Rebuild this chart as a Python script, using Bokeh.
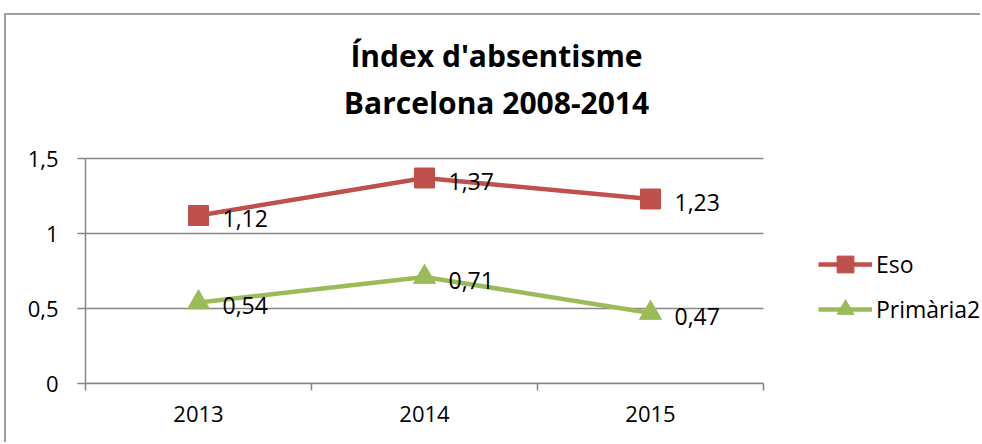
from bokeh.plotting import figure
from bokeh.models import FixedTicker, Label, Legend, LegendItem, ColumnDataSource, Range1d
from bokeh.core.properties import value
from bokeh.embed import file_html
from bokeh.resources import INLINE

years = [2013, 2014, 2015]
year_labels = ["2013", "2014", "2015"]
eso = [1.12, 1.37, 1.23]
primaria = [0.54, 0.71, 0.47]
y_ticks = [0, 0.5, 1, 1.5]
y_tick_labels = ["0", "0,5", "1", "1,5"]
title_lines = ["Índex d'absentisme", "Barcelona 2008-2014"]

FONT = "Open Sans"
RED = "#C0504D"
GREEN = "#9BBB59"
GRID = "#868686"

# outer chart border offsets (page px)
ML, MT, BW = 4, 13, 2
CW, CH = 982 - ML - BW, 444 - MT - BW
FL, FB = 85 - ML - BW, 444 - 383   # frame left / bottom border
PX_X, PX_Y = 226, 150              # pixels per data unit
FW, FH = CW - FL, CH - FB
x0, x1 = 2012.5, 2015.5
y0, y1 = 0, 1.5

p = figure(width=CW, height=CH, output_backend="svg", toolbar_location=None,
           x_range=Range1d(x0, x0 + FW / PX_X), y_range=Range1d(y0, y0 + FH / PX_Y),
           min_border_left=FL, min_border_top=0, min_border_right=0,
           min_border_bottom=FB)
p.styles = {"margin-left": f"{ML}px", "margin-top": f"{MT}px",
            "border-left": f"{BW}px solid #a0a0a0", "border-top": f"{BW}px solid #a0a0a0"}
p.outline_line_color = None
p.background_fill_color = "white"
p.border_fill_color = "white"
p.xgrid.grid_line_color = None
p.ygrid.grid_line_color = None

# x axis
p.xaxis.bounds = (x0, x1)
p.xaxis.ticker = FixedTicker(ticks=years, minor_ticks=[2012.5, 2013.5, 2014.5, 2015.5])
p.xaxis.major_label_overrides = {y: l for y, l in zip(years, year_labels)}
p.xaxis.major_tick_out = 0
p.xaxis.major_tick_in = 0
p.xaxis.minor_tick_out = 7
p.xaxis.minor_tick_in = 0
p.xaxis.minor_tick_line_color = GRID
p.xaxis.minor_tick_line_width = 1.5
p.xaxis.axis_line_color = GRID
p.xaxis.axis_line_width = 1.5
p.xaxis.major_label_standoff = 15

# y axis
p.yaxis.bounds = (y0, y1)
p.yaxis.ticker = FixedTicker(ticks=y_ticks, minor_ticks=[])
p.yaxis.major_label_overrides = {t: l for t, l in zip(y_ticks, y_tick_labels)}
p.yaxis.major_tick_out = 8
p.yaxis.major_tick_in = 0
p.yaxis.major_tick_line_color = GRID
p.yaxis.major_tick_line_width = 1.5
p.yaxis.axis_line_color = GRID
p.yaxis.axis_line_width = 1.5
p.yaxis.major_label_standoff = 19

for ax in (p.xaxis, p.yaxis):
    ax.major_label_text_font = FONT
    ax.major_label_text_font_size = "22px"
    ax.major_label_text_color = "black"

# horizontal gridlines over the plotted x extent
p.segment(x0=[x0] * len(y_ticks), x1=[x1] * len(y_ticks), y0=y_ticks, y1=y_ticks,
          line_color=GRID, line_width=1.5)

# series
src_e = ColumnDataSource(dict(x=years, y=eso, t=[f"{v:.2f}".replace(".", ",") for v in eso]))
src_p = ColumnDataSource(dict(x=years, y=primaria, t=[f"{v:.2f}".replace(".", ",") for v in primaria]))

le = p.line("x", "y", source=src_e, line_color=RED, line_width=4.5)
me = p.scatter("x", "y", source=src_e, marker="square", size=20, fill_color=RED, line_color=RED)
lp = p.line("x", "y", source=src_p, line_color=GREEN, line_width=4.5)
mp = p.scatter("x", "y", source=src_p, marker="triangle", size=22, fill_color=GREEN, line_color=GREEN)

for src in (src_e, src_p):
    p.text("x", "y", text="t", source=src, x_offset=24, y_offset=3,
           text_font=value(FONT), text_font_size="23px", text_color="black",
           text_align="left", text_baseline="middle")

# title
for i, line in enumerate(title_lines):
    p.add_layout(Label(x=411, y=328 - 47 * i, x_units="screen", y_units="screen", text=line,
                       text_font=FONT, text_font_size="30px", text_font_style="bold",
                       text_align="center", text_baseline="middle", text_color="black"))

legend = Legend(items=[LegendItem(label="Eso", renderers=[le, me]),
                       LegendItem(label="Primària2", renderers=[lp, mp])],
                location=(733, 53), orientation="vertical",
                glyph_width=54, glyph_height=42, spacing=3, label_standoff=4,
                padding=0, margin=0, border_line_color=None, background_fill_alpha=0,
                label_text_font=FONT, label_text_font_size="23px", label_text_color="black")
p.add_layout(legend, "center")

open("out.html", "w").write(file_html(p, INLINE))
